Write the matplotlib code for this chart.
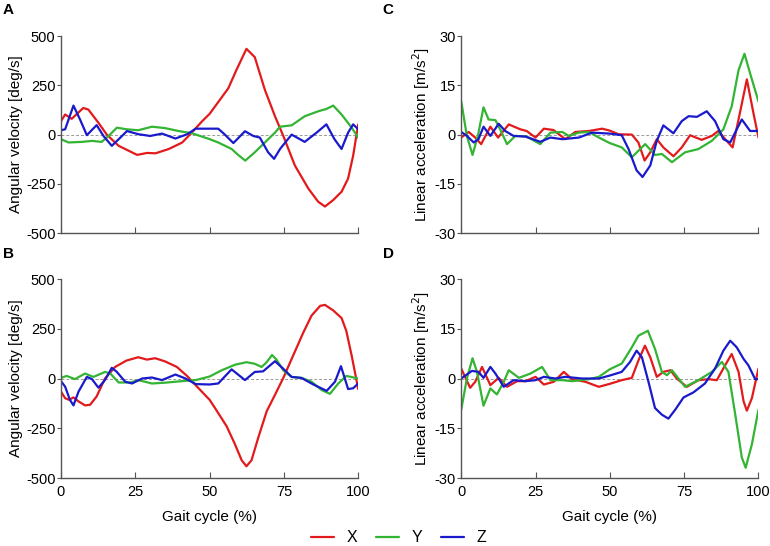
import matplotlib
matplotlib.use("Agg")
import matplotlib.pyplot as plt

plt.rcParams['font.family'] = ['Liberation Sans', 'DejaVu Sans']
plt.rcParams['axes.unicode_minus'] = False

# gait cycle (%) and values, one pair of lists per curve
# A: angular velocity, first sensor
A_X_t = [0, 1.4, 3.6, 7.5, 9.2, 12.6, 15.4, 19.4, 25.6, 29, 31.8, 36.3, 40.8, 44, 47.5, 50,
         56.3, 59, 62.4, 65.2, 68.6, 72, 74.8, 78.7, 83.2, 86.5, 88.8, 91.6, 94.4, 96.6, 98.3, 100]
A_X_v = [68, 102, 80, 135, 127, 60, 0, -57, -103, -93, -95, -73, -40, 10, 68, 105,
         235, 327, 435, 393, 227, 93, -7, -157, -273, -340, -365, -332, -290, -223, -107, 52]
A_Y_t = [0, 2.5, 7, 10.4, 13.7, 16, 18.8, 22, 26, 30.6, 35, 39.6, 44, 50, 52.9, 57.4, 59.6,
         62, 65.2, 68.6, 72, 73.7, 77.6, 82, 86.5, 89.3, 91.6, 94.4, 97.8, 100]
A_Y_v = [-23, -40, -37, -32, -37, -7, 35, 27, 22, 40, 33, 18, 7, -23, -40, -73, -103,
         -132, -90, -40, 10, 40, 47, 93, 118, 130, 147, 102, 35, -15]
A_Z_t = [0, 1.4, 4.2, 6.4, 8.7, 12, 14.3, 17.1, 20, 22.2, 26, 30, 34, 38.5, 42.5, 45.3, 50,
         52.9, 55, 58, 61.9, 64.7, 66.9, 69.7, 71.7, 73.7, 77.6, 82, 86, 89.3, 92, 94.4, 96.6, 98.3, 100]
A_Z_v = [22, 27, 147, 77, -3, 48, -7, -57, -15, 18, 2, -7, 5, -20, 2, 30, 30,
         30, 2, -43, 17, -7, -15, -90, -123, -73, 0, -37, 10, 52, -23, -73, 10, 52, 27]

# B: angular velocity, second sensor
B_X_t = [0, 1.4, 2.7, 4.2, 5.9, 8.1, 9.8, 12, 14.8, 18.2, 22, 26, 28.9, 31.7, 35, 39, 42.4,
         46.3, 50, 51.8, 55.7, 58.5, 60.8, 62.4, 64.1, 66.4, 69.2, 72, 74.8, 78.1, 81.5, 84.3,
         87.2, 88.8, 91.6, 94.4, 96, 97.8, 99.1, 100]
B_X_v = [-66, -99, -107, -95, -115, -135, -132, -90, 0, 58, 90, 107, 95, 102, 86, 58, 13,
         -49, -107, -148, -239, -329, -411, -441, -411, -296, -165, -82, 3, 115, 230, 316,
         365, 370, 342, 304, 239, 115, 16, -53]
B_Y_t = [0, 1.9, 4.7, 8.1, 10.9, 14.8, 16.6, 19.4, 23.3, 26, 30.6, 35, 40.8, 45.3, 50, 54,
         58.5, 62.4, 65.2, 67.5, 69.2, 71, 72.5, 74.8, 77.6, 80.9, 84.3, 87.7, 90.5, 93.3, 96, 100]
B_Y_v = [3, 13, -3, 25, 8, 33, 25, -20, -20, -8, -25, -21, -13, -8, 10, 41,
         69, 82, 74, 58, 82, 118, 95, 41, 8, 3, -16, -58, -77, -25, 13, 0]
B_Z_t = [0, 1.4, 3, 4.2, 5.9, 8.7, 10.4, 12.6, 14.8, 17.1, 18.8, 21.6, 23.9, 27.3, 30.6, 34,
         38.5, 41.9, 45.3, 50, 52.9, 57.4, 61.9, 65.2, 68, 72, 74.8, 77.6, 80.9, 84.9, 89.4,
         92.2, 94.2, 96.6, 98.3, 100]
B_Z_v = [-13, -41, -107, -135, -66, 8, -3, -46, -8, 54, 33, -16, -25, 0, 5, -8,
         20, 0, -28, -30, -25, 46, -8, 33, 36, 87, 49, 8, 3, -30, -62,
         -16, 62, -53, -49, -25]

# C: linear acceleration, first sensor
C_X_t = [0, 2.5, 4.7, 6.7, 9.8, 12.4, 16, 19.9, 22, 25, 27.8, 31, 35, 38.4, 43, 47.4, 50,
         52.9, 57.4, 59.6, 61.7, 63.6, 65.8, 68, 71.4, 74.2, 77, 80.9, 84.3, 86.5, 89.3, 91.3,
         93.3, 96.1, 98.3, 100]
C_X_v = [-0.9, 0.8, -0.9, -2.9, 2.4, -0.9, 3.1, 1.6, 1.1, -0.9, 1.8, 1.4, -1.4, 0.8, 1.1, 1.8, 1.2,
         0.1, 0, -2.4, -7.9, -5.4, -1.4, -3.9, -6.6, -3.9, -0.2, -1.6, -0.4, 1.1, -1.9, -3.9,
         4.6, 16.8, 6.6, -0.9]
C_Y_t = [0, 1.9, 3.8, 5.6, 7.5, 9.2, 11.5, 13.1, 15.4, 18.2, 22, 26.6, 30, 34, 36.2, 39.6, 43,
         46.3, 50, 54, 57.4, 61.9, 65.2, 67.5, 70.9, 75.3, 79.8, 84.3, 88.2, 91, 93.3, 95.3,
         97.2, 100]
C_Y_v = [10.1, -0.4, -6.2, -0.4, 8.3, 4.6, 4.4, 1.6, -2.9, -0.4, -0.6, -2.9, 0.6, 0.8, -0.4, 0.6, 0.8,
         -0.9, -2.6, -3.9, -6.9, -2.9, -6.2, -5.9, -8.4, -5.4, -4.4, -1.9, 1.6, 8.6, 19.6, 24.6,
         18.6, 10.1]
C_Z_t = [0, 1.9, 4.2, 5.8, 7.5, 9.8, 12.6, 14.8, 17.6, 21.6, 26.6, 30, 34, 39.6, 44, 50,
         54, 56.3, 59, 61, 63.6, 65.8, 68, 71.4, 74.2, 76.5, 79.3, 82.6, 85.4, 88.2, 90.5,
         92.7, 94.4, 97.2, 100]
C_Z_v = [0.8, -0.4, -2.4, -1.4, 2.4, -0.4, 3.3, 1.1, -0.4, -0.6, -2.2, -0.9, -1.4, -0.9, 0.6, 0.3,
         -0.2, -4.4, -10.9, -12.9, -9.4, -1.9, 2.8, 0.4, 4.1, 5.6, 5.4, 7.1, 4.1, -1.4, -2.4,
         1.6, 4.6, 1.1, 1.1]

# D: linear acceleration, second sensor
D_X_t = [0, 3, 4.7, 7, 9.8, 12.6, 15.4, 18.8, 21.6, 25, 27.8, 31.1, 34.5, 37.3, 41.8, 46.3,
         50, 54, 57.4, 59.6, 61.8, 63.6, 65.8, 68, 70.4, 72.5, 75.9, 79.8, 83.2, 86, 88.8, 91,
         93.3, 95, 96.1, 97.8, 100]
D_X_v = [3, -2.8, -1, 3.5, -2, 0.2, -2.5, -0.8, -0.8, 0.5, -1.8, -1, 2, -0.2, -1, -2.5,
         -1.6, -0.5, 0.2, 5.4, 9.9, 6.4, 0.5, 2, 2.5, 0, -2.5, -0.5, -0.2, -0.5, 4, 7.4,
         2, -6.9, -9.7, -5.9, 3]
D_Y_t = [0, 1.9, 3.8, 5.3, 7.5, 9.8, 12, 14.3, 16, 19.4, 23.3, 27.2, 30, 34, 37.3, 43, 46.3,
         50, 54, 57.4, 59.6, 62.8, 65.2, 67.5, 69.2, 70.9, 75.3, 79.8, 84.3, 87.7, 89.9, 92.2,
         94.4, 95.7, 97.8, 100]
D_Y_v = [-9.4, 0, 6.1, 2, -8.2, -3, -4.8, -1, 2.5, 0.2, 1.5, 3.5, -0.5, -0.5, -0.8, -0.2, 0.5,
         2.8, 4.5, 9.4, 12.9, 14.4, 8.9, 2, 1, 2.5, -2.5, -0.5, 2, 5, 2, -10.9,
         -23.8, -26.9, -19.8, -9.4]
D_Z_t = [0, 3.6, 5.8, 7.5, 9.8, 11.5, 14.3, 17.6, 21.6, 25, 27.8, 31.7, 35, 40.7, 46.3, 50,
         54, 56.8, 59, 60.8, 63, 65.2, 67.5, 69.7, 72, 74.8, 78.1, 82, 85.4, 88.2, 90.5, 92.7,
         95, 96.6, 98.9, 100]
D_Z_v = [0, 2.3, 2, 0.2, 3.5, 1.5, -2.5, -0.5, -0.8, -0.5, 0.5, 0, 0.5, 0, 0, 0.9,
         2, 5, 8.4, 6.4, -1, -8.9, -10.9, -12.1, -9.4, -5.7, -4.2, -1.5, 3, 8.4, 11.4, 9.4,
         5.9, 4, -0.2, -0.2]

ang_ticks = [-500, -250, 0, 250, 500]
acc_ticks = [-30, -15, 0, 15, 30]
gait_ticks = [0, 25, 50, 75, 100]
axis_names = ['X', 'Y', 'Z']
colors = ['#e31a1c', '#33b433', '#1a1acd']

fig = plt.figure(figsize=(7.7, 5.46), dpi=100)

panels = [
    ('A', [0.0792, 0.573, 0.386, 0.361], [(A_X_t, A_X_v), (A_Y_t, A_Y_v), (A_Z_t, A_Z_v)],
     ang_ticks, 'Angular velocity [deg/s]', False),
    ('C', [0.599, 0.573, 0.386, 0.361], [(C_X_t, C_X_v), (C_Y_t, C_Y_v), (C_Z_t, C_Z_v)],
     acc_ticks, 'Linear acceleration [m/s$^2$]', False),
    ('B', [0.0792, 0.1245, 0.386, 0.3645], [(B_X_t, B_X_v), (B_Y_t, B_Y_v), (B_Z_t, B_Z_v)],
     ang_ticks, 'Angular velocity [deg/s]', True),
    ('D', [0.599, 0.1245, 0.386, 0.3645], [(D_X_t, D_X_v), (D_Y_t, D_Y_v), (D_Z_t, D_Z_v)],
     acc_ticks, 'Linear acceleration [m/s$^2$]', True),
]

lines = []
for letter, rect, series, yticks, ylab, bottom in panels:
    ax = fig.add_axes(rect)
    ax.axhline(0, color='#999999', lw=0.7, ls=(0, (3, 2)), zorder=1)
    lines = []
    for (t, v), c, name in zip(series, colors, axis_names):
        ln, = ax.plot(t, v, color=c, lw=1.6, label=name, zorder=2,
                      solid_joinstyle='round', solid_capstyle='round')
        lines.append(ln)
    ax.set_xlim(0, 100)
    ax.set_ylim(yticks[0], yticks[-1])
    ax.set_xticks(gait_ticks)
    ax.set_yticks(yticks)
    for s in ['top', 'right']:
        ax.spines[s].set_visible(False)
    for s in ['left', 'bottom']:
        ax.spines[s].set_color('#555555')
        ax.spines[s].set_linewidth(1.0)
    ax.tick_params(axis='x', direction='in', length=4, color='#555555', labelsize=10.5, pad=5)
    ax.tick_params(axis='y', direction='out', length=3, color='#555555', labelsize=10.5, pad=1)
    ax.set_ylabel(ylab, fontsize=11, labelpad=2)
    if bottom:
        ax.set_xlabel('Gait cycle (%)', fontsize=11, labelpad=8)
    else:
        ax.set_xticklabels([])
    lx = 0.004 if rect[0] < 0.5 else 0.497
    ly = 0.975 if rect[1] > 0.5 else 0.528
    fig.text(lx, ly, letter, fontsize=11, fontweight='bold')

fig.legend(lines, axis_names, loc='center', bbox_to_anchor=(0.518, 0.015), ncol=3,
           frameon=False, fontsize=11.5, handlelength=1.4, columnspacing=1.2, handletextpad=0.8)

fig.savefig('out.png', dpi=100)
